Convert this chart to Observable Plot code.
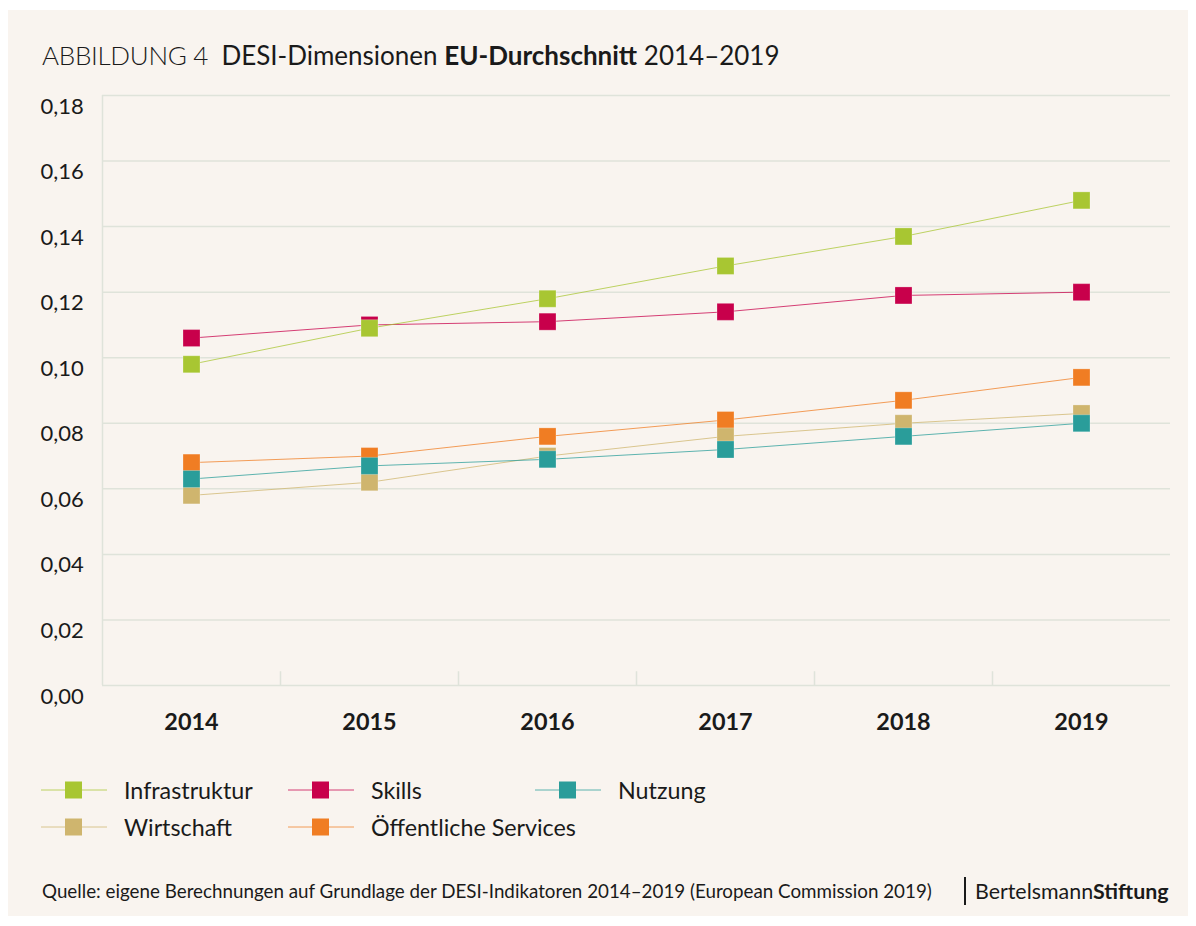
<!DOCTYPE html>
<html>
<head>
<meta charset="utf-8">
<script src="https://cdn.jsdelivr.net/npm/d3@7"></script>
<script src="https://cdn.jsdelivr.net/npm/@observablehq/plot@0.6"></script>
<style>
  html, body { margin: 0; padding: 0; background: #ffffff; width: 1196px; height: 926px; overflow: hidden; font-family: Lato, "Open Sans", sans-serif; color: #1a1a1a; }
  #panel { position: absolute; left: 8px; top: 10px; width: 1180px; height: 906px; background: #f9f4ef; }
  .abs { position: absolute; white-space: nowrap; }
  #title { left: 42px; top: 39px; font-size: 26px; line-height: 32px; }
  #title .light { font-weight: 300; letter-spacing: -0.3px; }
  #title b { font-weight: 700; }
  #chart { position: absolute; left: 0; top: 80px; }
  .leg { position: absolute; height: 24px; display: flex; align-items: center; font-size: 23.3px; }
  .leg svg { margin-right: 17px; }
  #source { left: 42px; top: 878px; font-size: 18.8px; line-height: 26px; }
  #bar { position: absolute; left: 964px; top: 877px; width: 1.5px; height: 28px; background: #1a1a1a; }
  #brand { left: 975px; top: 877px; font-size: 21.4px; line-height: 28px; }
</style>
</head>
<body>
<div id="panel"></div>
<div id="title" class="abs"><span class="light">ABBILDUNG 4</span>&nbsp; DESI-Dimensionen <b>EU-Durchschnitt</b> 2014–2019</div>
<div id="chart"></div>
<div id="legend"></div>
<div id="source" class="abs">Quelle: eigene Berechnungen auf Grundlage der DESI-Indikatoren 2014–2019 (European Commission 2019)</div>
<div id="bar"></div>
<div id="brand" class="abs">Bertelsmann<b>Stiftung</b></div>
<script>
const years = [2014, 2015, 2016, 2017, 2018, 2019];
const infrastruktur = [0.098, 0.109, 0.118, 0.128, 0.137, 0.148];
const skills        = [0.106, 0.110, 0.111, 0.114, 0.119, 0.120];
const nutzung       = [0.063, 0.067, 0.069, 0.072, 0.076, 0.080];
const wirtschaft    = [0.058, 0.062, 0.070, 0.076, 0.080, 0.083];
const oeffentlich   = [0.068, 0.070, 0.076, 0.081, 0.087, 0.094];
const seriesNames = ["Infrastruktur", "Skills", "Nutzung", "Wirtschaft", "Öffentliche Services"];
const seriesColors = ["#a8c632", "#c8004b", "#2a9d9a", "#cfb56e", "#f07d23"];
const yTicks = [0, 0.02, 0.04, 0.06, 0.08, 0.10, 0.12, 0.14, 0.16, 0.18];

const valuesBySeries = {
  "Infrastruktur": infrastruktur,
  "Skills": skills,
  "Nutzung": nutzung,
  "Wirtschaft": wirtschaft,
  "Öffentliche Services": oeffentlich
};
// drawing order (back to front)
const drawOrder = ["Skills", "Infrastruktur", "Öffentliche Services", "Wirtschaft", "Nutzung"];
const rows = [];
for (const s of drawOrder) {
  years.forEach((yr, i) => rows.push({series: s, year: yr, value: valuesBySeries[s][i]}));
}
const bandEdges = years.slice(0, -1).map(y => y + 0.5);
const fmt = d => d.toFixed(2).replace(".", ",");
const gridColor = "#dfe3da";

const chart = Plot.plot({
  width: 1196,
  height: 660,
  marginTop: 15,
  marginBottom: 55,
  marginLeft: 102,
  marginRight: 26,
  style: {background: "transparent", fontFamily: "Lato, sans-serif", overflow: "visible"},
  x: {domain: [years[0] - 0.5, years[years.length - 1] + 0.5], axis: null},
  y: {domain: [0, 0.18], axis: null},
  color: {domain: seriesNames, range: seriesColors},
  marks: [
    Plot.ruleY(yTicks, {stroke: gridColor, strokeWidth: 1.5}),
    Plot.ruleX([years[0] - 0.5], {y1: 0, y2: 0.18, stroke: gridColor, strokeWidth: 1.5}),
    Plot.ruleX(bandEdges, {y1: 0, y2: 0.0042, stroke: gridColor, strokeWidth: 1.5}),
    Plot.text(yTicks, {y: d => d, text: fmt, frameAnchor: "left", dx: -62, dy: 11, textAnchor: "start", fontSize: 22, fill: "#1a1a1a"}),
    Plot.text(years, {x: d => d, y: 0, text: d => String(d), dy: 37, fontSize: 23.4, fontWeight: "bold", fill: "#1a1a1a"}),
    Plot.line(rows, {x: "year", y: "value", z: "series", stroke: "series", strokeWidth: 1, strokeOpacity: 0.75}),
    Plot.dot(rows, {x: "year", y: "value", fill: "series", symbol: "square", r: 9.6, stroke: "#ffffff", strokeOpacity: 0.25, strokeWidth: 1})
  ]
});
document.getElementById("chart").appendChild(chart);

// Legend
const legendPos = [
  {name: "Infrastruktur", x: 41, y: 790},
  {name: "Skills", x: 288, y: 790},
  {name: "Nutzung", x: 535, y: 790},
  {name: "Wirtschaft", x: 41, y: 827},
  {name: "Öffentliche Services", x: 288, y: 827}
];
const legend = document.getElementById("legend");
for (const p of legendPos) {
  const c = seriesColors[seriesNames.indexOf(p.name)];
  const el = document.createElement("div");
  el.className = "leg";
  el.style.left = p.x + "px";
  el.style.top = (p.y - 12) + "px";
  el.innerHTML = `<svg width="66" height="20"><line x1="0" x2="66" y1="10" y2="10" stroke="${c}" stroke-width="1" stroke-opacity="0.75"/><rect x="24" y="1.5" width="17" height="17" fill="${c}"/></svg><span>${p.name}</span>`;
  legend.appendChild(el);
}
</script>
</body>
</html>
